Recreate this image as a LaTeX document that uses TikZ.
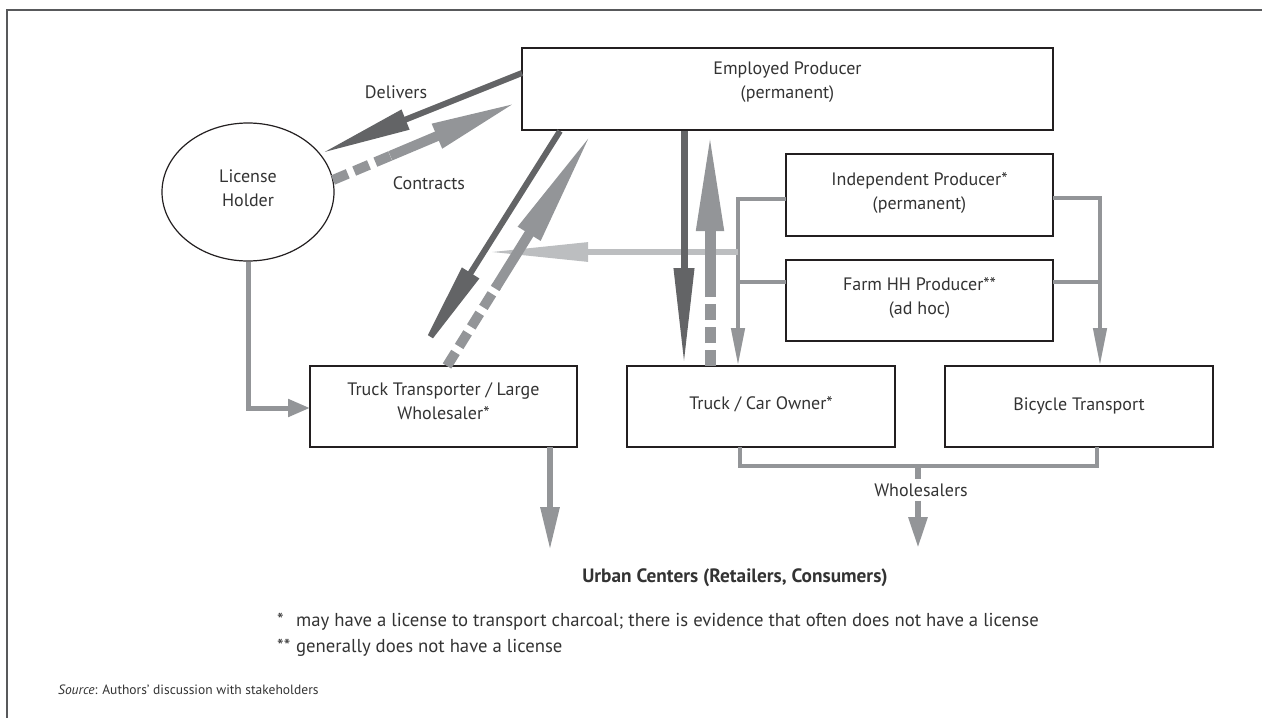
\documentclass[tikz,border=0pt]{standalone}
\usepackage{fontspec}
\setmainfont{PT Sans}
\usetikzlibrary{arrows.meta,shapes.geometric,calc}
\definecolor{dk}{HTML}{636466}
\definecolor{md}{HTML}{939598}
\definecolor{lt}{HTML}{BCBEC0}
\definecolor{bx}{HTML}{231F20}
\definecolor{fr}{HTML}{58595B}
\definecolor{txt}{HTML}{333333}
\begin{document}
\begin{tikzpicture}[x=1pt,y=-1pt,
  every node/.style={text=txt, font=\fontsize{18}{24}\selectfont},
  box/.style={draw=bx, line width=1.4pt, minimum width=267pt, minimum height=81pt, align=center, inner sep=2pt},
  dkline/.style={draw=dk, line cap=butt},
  mdline/.style={draw=md, line cap=butt},
  ltline/.style={draw=lt, line cap=butt},
  brline/.style={draw=md, line width=4.5pt, line cap=butt, line join=miter},
  dashpart/.style={dash pattern=on 16pt off 7pt},
  lbl/.style={inner sep=0pt}
]
\useasboundingbox (0,0) rectangle (1262,718);
% frame
\draw[fr, line width=2pt] (1262,10) -- (7,10) -- (7,718);

% nodes
\node[box, minimum width=531pt, minimum height=82pt, text depth=17.5pt] (emp) at (787.5,89) {Employed Producer\\(permanent)};
\node[box, minimum height=82pt, text depth=8.5pt] (ind) at (919.5,195) {Independent Producer*\\(permanent)};
\node[box, text depth=9.5pt] (farm) at (919.5,300.5) {Farm HH Producer**\\(ad hoc)};
\node[box, text depth=10pt] (tt) at (443.5,406.5) {Truck Transporter / Large\\Wholesaler*};
\node[box, minimum width=268pt, text depth=7pt] (tc) at (761,406.5) {Truck / Car Owner*};
\node[box, minimum width=268pt, text depth=5pt] (bic) at (1079,406.5) {Bicycle Transport};
\node[ellipse, draw=bx, line width=1.2pt, minimum width=172pt, minimum height=138pt, inner sep=0pt, align=center, text depth=8pt] (lic) at (248,192) {License\\Holder};

\node[lbl] (deliv) at (396,92) {Delivers};
\node[lbl] (contr) at (429,183) {Contracts};
\node[inner sep=4pt] (wh) at (921,490) {Wholesalers};
\node[lbl, font=\fontsize{19.3}{24}\selectfont\bfseries] (urban) at (735,578) {Urban Centers (Retailers, Consumers)};
\node[lbl, anchor=base west, align=left, font=\fontsize{18.7}{26}\selectfont] (notes) at (277,652) {\makebox[19pt][l]{*}may have a license to transport charcoal; there is evidence that often does not have a license\\\makebox[19pt][l]{**}generally does not have a license};
\node[lbl, anchor=base west, font=\fontsize{13.5}{16}\selectfont] (src) at (58,694) {\textit{Source}: Authors' discussion with stakeholders};

% coordinates
\coordinate (dA) at (522,73);  \coordinate (dB) at (322,153);
\coordinate (cA) at (333,180); \coordinate (cB) at (518,102);
\coordinate (eA) at (560,131); \coordinate (eB) at (412,366);
\coordinate (tA) at (447,366); \coordinate (tB) at (593,131);
\coordinate (hA) at (738,252); \coordinate (hB) at (488,252);
\coordinate (vA) at (684,131); \coordinate (vB) at (684,366);
\coordinate (wA) at (710,366); \coordinate (wB) at (710,131);
\coordinate (i1) at (786,199); \coordinate (f1) at (786,282);
\coordinate (i2) at (1053,198); \coordinate (f2) at (1053,282);
\coordinate (tcN) at (738,366); \coordinate (bcN) at (1100,366);
\coordinate (ttW) at (310,408);
\coordinate (ttS) at (550,447); \coordinate (urL) at (550,550);
\coordinate (tcS) at (740,447); \coordinate (bcS) at (1097,447);
\coordinate (wj) at (918,466); \coordinate (urR) at (918,548);

% brackets from producers
\draw[brline, -{Triangle[length=38pt,width=13pt]}] (i1) -| (tcN);
\draw[brline] (f1) -- (f1 -| tcN);
\draw[brline, -{Triangle[length=38pt,width=13pt]}] (i2) -| (bcN);
\draw[brline] (f2) -- (f2 -| bcN);

% light horizontal arrow
\draw[ltline, line width=6pt, -{Triangle[length=100pt,width=18pt]}] (hA) -- (hB);

% delivers / contracts
\draw[dkline, line width=6pt, -{Triangle[length=90pt,width=20pt]}] (dA) -- (dB);
\draw[mdline, line width=10pt, dashpart] (cA) -- ($(cA)!0.32!(cB)$);
\draw[mdline, line width=10pt, -{Triangle[length=88pt,width=24pt]}] ($(cA)!0.31!(cB)$) -- (cB);

% employed <-> truck transporter
\draw[dkline, line width=6pt, -{Triangle[length=110pt,width=19pt]}] (eA) -- (eB);
\draw[mdline, line width=10pt, dashpart] (tA) -- ($(tA)!0.34!(tB)$);
\draw[mdline, line width=10pt, -{Triangle[length=121pt,width=24pt]}] ($(tA)!0.33!(tB)$) -- (tB);

% employed <-> truck/car owner
\draw[dkline, line width=7pt, -{Triangle[length=98pt,width=19pt]}] (vA) -- (vB);
\draw[mdline, line width=11pt, dashpart] (wA) -- ($(wA)!0.37!(wB)$);
\draw[mdline, line width=11pt, -{Triangle[length=100pt,width=25pt]}] ($(wA)!0.36!(wB)$) -- (wB);

% license holder -> truck transporter
\draw[mdline, line width=5pt, -{Triangle[length=22pt,width=17pt]}] (lic.south) |- (ttW);

% truck transporter -> urban
\draw[mdline, line width=6pt, -{Triangle[length=43pt,width=18pt]}] (ttS) -- (urL);

% bottom bracket -> wholesalers -> urban
\draw[brline] (tcS) |- (wj) -| (bcS);
\draw[brline, line width=6pt] (wj) -- (wj |- wh.north);
\draw[mdline, line width=6pt, -{Triangle[length=31pt,width=18pt]}] (wj |- wh.south) -- (urR);
\end{tikzpicture}
\end{document}
